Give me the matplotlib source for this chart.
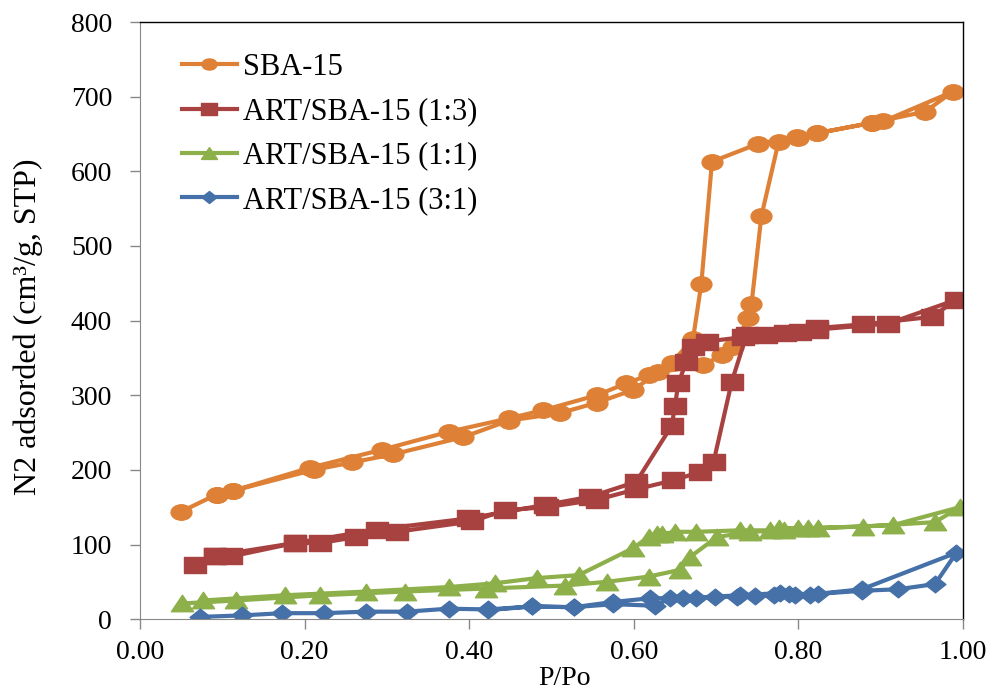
import matplotlib
matplotlib.use("Agg")
import matplotlib.pyplot as plt
from matplotlib.path import Path

plt.rcParams['font.family'] = ['Liberation Serif', 'DejaVu Serif']

# adsorption branch followed by desorption branch, per sample
sba_x = [0.05, 0.093, 0.113, 0.211, 0.258, 0.308, 0.393, 0.448, 0.51, 0.555, 0.599, 0.630, 0.684,
         0.707, 0.721, 0.739, 0.743, 0.755, 0.776, 0.80, 0.822, 0.889, 0.954, 0.988,
         0.903, 0.889, 0.822, 0.798, 0.751, 0.695, 0.682, 0.672, 0.646, 0.618, 0.591, 0.555,
         0.49, 0.448, 0.375, 0.294, 0.207, 0.113, 0.093]
sba_y = [144, 167, 172, 200, 210, 221, 244, 266, 276, 290, 307, 331, 340,
         354, 365, 403, 422, 540, 640, 645, 651, 665, 680, 707,
         667, 665, 651, 646, 637, 613, 449, 376, 343, 327, 316, 300,
         280, 269, 251, 227, 203, 172, 167]

art13_x = [0.067, 0.091, 0.111, 0.188, 0.219, 0.263, 0.312, 0.404, 0.443, 0.494, 0.555, 0.603,
           0.648, 0.680, 0.697, 0.719, 0.737, 0.761, 0.784, 0.802, 0.822, 0.879, 0.962, 0.992,
           0.909, 0.822, 0.733, 0.689, 0.672, 0.664, 0.654, 0.650, 0.646, 0.603, 0.547, 0.492,
           0.399, 0.288, 0.188, 0.091]
art13_y = [72, 85, 84, 102, 102, 110, 117, 131, 146, 150, 160, 174,
           186, 197, 211, 318, 381, 381, 384, 385, 390, 395, 405, 428,
           396, 388, 378, 372, 364, 345, 316, 285, 259, 184, 164, 153,
           135, 120, 102, 85]

art11_x = [0.051, 0.117, 0.219, 0.322, 0.421, 0.516, 0.567, 0.618, 0.656, 0.668, 0.701, 0.741,
           0.782, 0.812, 0.879, 0.966, 0.996,
           0.915, 0.824, 0.800, 0.776, 0.766, 0.729, 0.676, 0.650, 0.634, 0.628, 0.618, 0.599,
           0.533, 0.482, 0.431, 0.375, 0.275, 0.176, 0.077]
art11_y = [21, 25, 32, 37, 41, 45, 50, 57, 66, 83, 110, 117,
           119, 122, 124, 130, 150,
           126, 122, 122, 122, 119, 119, 117, 117, 114, 114, 110, 95,
           59, 55, 48, 43, 37, 32, 25]

art31_x = [0.073, 0.124, 0.173, 0.223, 0.274, 0.324, 0.375, 0.423, 0.476, 0.527, 0.575, 0.626,
           0.644, 0.676, 0.699, 0.725, 0.747, 0.770, 0.788, 0.814, 0.877, 0.921, 0.966, 0.992,
           0.877, 0.824, 0.796, 0.778, 0.729, 0.660, 0.620, 0.575, 0.527, 0.476, 0.423]
art31_y = [3, 5, 8, 8, 10, 10, 14, 13, 17, 16, 20, 18,
           28, 28, 30, 30, 31, 32, 34, 33, 38, 40, 47, 89,
           40, 34, 32, 35, 32, 28, 28, 23, 16, 17, 12]

# markers in the original are a bit wider than tall
k = 1.35
circle = Path.unit_circle().transformed(matplotlib.transforms.Affine2D().scale(k, 1))
square = Path([(-k, -1), (k, -1), (k, 1), (-k, 1), (-k, -1)], closed=True)
triangle = Path([(-k, -1), (k, -1), (0, 1), (-k, -1)], closed=True)
diamond = Path([(0, 1), (1.25, 0), (0, -1), (-1.25, 0), (0, 1)], closed=True)

series = [
    ("SBA-15", sba_x, sba_y, '#DE8136', circle, 15),
    ("ART/SBA-15 (1:3)", art13_x, art13_y, '#A84240', square, 15.5),
    ("ART/SBA-15 (1:1)", art11_x, art11_y, '#8DB04A', triangle, 16),
    ("ART/SBA-15 (3:1)", art31_x, art31_y, '#4571A8', diamond, 15),
]

fig = plt.figure(figsize=(10, 6.91), dpi=100)
ax = fig.add_axes([0.14, 0.104, 0.823, 0.864])

for name, xs, ys, c, m, ms in series:
    ax.plot(xs, ys, color=c, marker=m, markersize=ms, linewidth=3, label=name)

ax.set_xlim(0, 1.0)
ax.set_ylim(0, 800)
ax.set_xticks([0, 0.2, 0.4, 0.6, 0.8, 1.0])
ax.set_xticklabels(['0.00', '0.20', '0.40', '0.60', '0.80', '1.00'])
ax.set_yticks(range(0, 801, 100))
ax.tick_params(labelsize=20, direction='out', length=7, color='#888888', width=1)
ax.tick_params(axis='y', pad=13)
ax.tick_params(axis='x', pad=8)
for s in ['left', 'bottom']:
    ax.spines[s].set_color('#888888')
for s in ['top', 'right']:
    ax.spines[s].set_color('black')
    ax.spines[s].set_linewidth(1)

ax.set_xlabel('P/Po', fontsize=20)
ax.xaxis.set_label_coords(0.516, -0.078)
ax.set_ylabel('N2 adsorded (cm³/g, STP)', fontsize=23)
ax.yaxis.set_label_coords(-0.118, 0.49)

ax.legend(loc='upper left', bbox_to_anchor=(0.051, 0.948), frameon=False, fontsize=22,
          markerscale=0.72, handlelength=1.8, handletextpad=0.2, labelspacing=0.5,
          borderpad=0, borderaxespad=0)

fig.savefig('out.png', dpi=100)
